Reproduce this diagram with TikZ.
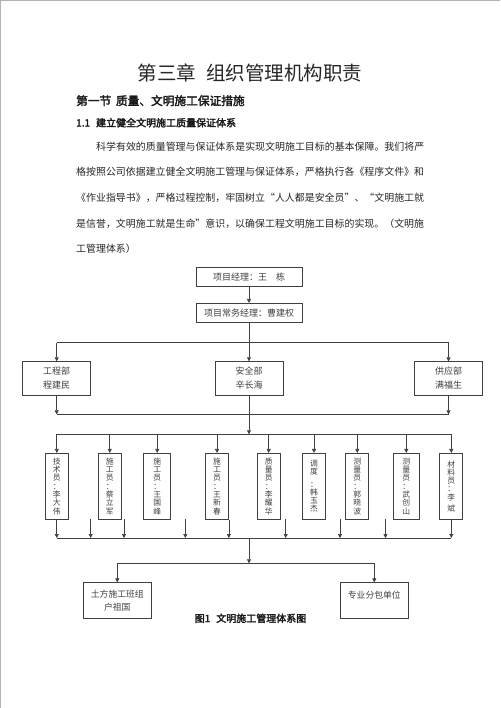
\documentclass[tikz,border=0pt]{standalone}
\usepackage{fontspec}
\setmainfont{Noto Sans CJK SC}
\newfontfamily\cjkbold[FakeBold=2.5]{Noto Sans CJK SC}
\usetikzlibrary{arrows.meta}
\XeTeXlinebreaklocale "zh"
\XeTeXlinebreakskip = 0pt plus 1pt

\tikzset{
  box/.style = {draw=black!75, line width=0.7pt, inner sep=0pt, align=center,
    text=black!75, font=\fontsize{9}{14.3}\selectfont},
  tallbox/.style = {box, minimum width=23pt, minimum height=66pt,
    font=\fontsize{7.8}{8.3}\selectfont},
  wire/.style = {draw=black!75, line width=0.7pt},
  arr/.style = {wire, -{Triangle[length=4pt,width=4pt]}},
  bodytext/.style = {anchor=west, inner sep=0pt, text=black!85,
    font=\fontsize{9.94}{12}\selectfont}
}

\begin{document}
\begin{tikzpicture}[x=1pt,y=-1pt]
    \useasboundingbox (0,0) rectangle (500,708) ;
    \fill [white] (0,0) rectangle (500,708) ;
    \draw [black!30, line width=1pt] (0.5,708) -- (0.5,0.5) -- (500,0.5) ;

    \draw (250,73) node [text=black!85, font=\fontsize{19.5}{20}\selectfont] (title)
      {第三章\hspace{0.5em}组织管理机构职责} ;
    \draw (76,100.7) node [anchor=west, inner sep=0pt, text=black!90,
      font=\cjkbold\fontsize{11.7}{12}\selectfont] (sec)
      {第一节\hspace{0.4em}质量、文明施工保证措施} ;
    \draw (76,122.7) node [anchor=west, inner sep=0pt, text=black!90,
      font=\cjkbold\fontsize{10}{12}\selectfont] (subsec)
      {1.1\hspace{0.6em}建立健全文明施工质量保证体系} ;

    \draw (96,146.5) node [bodytext] (line1)
      {\makebox[328pt][s]{科学有效的质量管理与保证体系是实现文明施工目标的基本保障。我们将严}} ;
    \draw (76,172.2) node [bodytext] (line2)
      {\makebox[348pt][s]{格按照公司依据建立健全文明施工管理与保证体系，严格执行各《程序文件》和}} ;
    \draw (76,197.8) node [bodytext] (line3)
      {\makebox[348pt][s]{《作业指导书》，严格过程控制，牢固树立“人人都是安全员”、“文明施工就}} ;
    \draw (76,223.5) node [bodytext] (line4)
      {\makebox[348pt][s]{是信誉，文明施工就是生命”意识，以确保工程文明施工目标的实现。（文明施}} ;
    \draw (76,249.1) node [bodytext] (line5) {工管理体系）} ;

    \draw (249,277) node [box, minimum width=106pt, minimum height=19.4pt] (pm)
      {项目经理：王　栋} ;
    \draw (249,313) node [box, minimum width=106pt, minimum height=19.4pt] (dpm)
      {项目常务经理：曹建权} ;
    \draw [arr] (pm) -- (dpm) ;

    \draw (56.7,378.3) node [box, minimum width=68pt, minimum height=33.3pt] (eng)
      {工程部\\程建民} ;
    \draw (249,378.3) node [box, minimum width=68.3pt, minimum height=33.3pt] (safe)
      {安全部\\辛长海} ;
    \draw (448.5,378.3) node [box, minimum width=68.3pt, minimum height=33.3pt] (supply)
      {供应部\\满福生} ;

    \coordinate (busA) at (249,342.7) ;
    \draw [wire] (dpm) -- (busA) ;
    \draw [wire] (busA -| eng) -- (busA -| supply) ;
    \draw [arr] (busA -| eng) -- (eng) ;
    \draw [arr] (busA) -- (safe) ;
    \draw [arr] (busA -| supply) -- (supply) ;

    \coordinate (busB) at (249,414.3) ;
    \coordinate (busC) at (249,434.3) ;
    \draw [arr] (eng) -- (busB -| eng) ;
    \draw [arr] (supply) -- (busB -| supply) ;
    \draw [wire] (busB -| eng) -- (busB -| supply) ;
    \draw [arr] (safe) -- (busC) ;

    \draw (56.8,486.3) node [tallbox] (staff1) {技\\术\\员\\：\\李\\大\\伟} ;
    \draw (109.8,486.3) node [tallbox] (staff2) {施\\工\\员\\：\\蔡\\立\\军} ;
    \draw (157.2,486.3) node [tallbox, minimum width=27pt] (staff3) {施\\工\\员\\：\\王\\国\\峰} ;
    \draw (217,486.3) node [tallbox] (staff4) {施\\工\\员\\：\\王\\新\\春} ;
    \draw (268.7,486.3) node [tallbox] (staff5) {质\\量\\员\\：\\李\\耀\\华} ;
    \draw (314,486.3) node [tallbox] (staff6) {调\\度\\[4pt]：\\韩\\玉\\杰} ;
    \draw (357.3,486.3) node [tallbox] (staff7) {测\\量\\员\\：\\郭\\晓\\波} ;
    \draw (406.3,486.3) node [tallbox, minimum width=26pt] (staff8) {测\\量\\员\\：\\武\\创\\山} ;
    \draw (451.3,486.3) node [tallbox] (staff9) {材\\料\\员\\：\\李\\[3pt]斌} ;

    \draw [wire] (busC -| staff1) -- (busC -| staff9) ;
    \foreach \i in {1,...,9}
      \draw [arr] (busC -| staff\i) -- (staff\i) ;

    \coordinate (busD) at (249,538) ;
    \draw [wire] (busD -| staff1) -- (busD -| staff9) ;
    \draw [arr] (staff1) -- (busD -| staff1) ;
    \draw [arr] (staff4.south east) -- (busD -| staff4.south east) ;
    \draw [arr] (staff9) -- (busD -| staff9) ;
    \foreach \x [count=\i] in {90.7,124,185.3,285.7,340,385.5} {
      \coordinate (drop\i) at (\x,519.3) ;
      \draw [arr] (drop\i) -- (busD -| drop\i) ;
    }

    \draw (117.3,600.7) node [box, minimum width=68.7pt, minimum height=36pt,
      font=\fontsize{8.8}{12.7}\selectfont] (earth) {土方施工班组\\户祖国} ;
    \draw (374.3,600.7) node [box, minimum width=68.7pt, minimum height=36pt,
      font=\fontsize{8.8}{12.7}\selectfont] (subcon) {专业分包单位\\~} ;

    \coordinate (busE) at (249,563.3) ;
    \draw [arr] (busD) -- (busE) ;
    \draw [wire] (busE -| earth) -- (busE -| subcon) ;
    \draw [arr] (busE -| earth) -- (earth) ;
    \draw [arr] (busE -| subcon) -- (subcon) ;

    \draw (250.5,618.3) node [text=black!90, font=\cjkbold\fontsize{10}{12}\selectfont] (caption)
      {图1\hspace{0.6em}文明施工管理体系图} ;
\end{tikzpicture}
\end{document}
